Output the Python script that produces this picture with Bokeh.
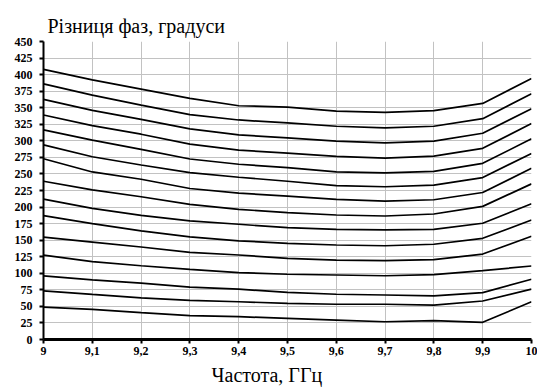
from bokeh.plotting import figure
from bokeh.models import Range1d, FixedTicker, Title
from bokeh.embed import file_html
from bokeh.resources import INLINE

# ---- data ----
freq_ghz = [9.0, 9.1, 9.2, 9.3, 9.4, 9.5, 9.6, 9.7, 9.8, 9.9, 10.0]
x_tick_labels = ["9", "9,1", "9,2", "9,3", "9,4", "9,5", "9,6", "9,7", "9,8", "9,9", "10"]
y_ticks = [0, 25, 50, 75, 100, 125, 150, 175, 200, 225, 250, 275, 300,
           325, 350, 375, 400, 425, 450]

curve_01 = [408, 392, 378, 364, 353, 351, 345, 343, 345.5, 356.5, 394]
curve_02 = [386, 369, 354, 339.5, 331.5, 327, 322, 319.5, 322, 333.5, 371]
curve_03 = [362.5, 346, 332.5, 318, 309, 304.5, 299.5, 297, 299.5, 311.5, 348.5]
curve_04 = [339, 323, 310, 295, 286, 281.5, 276.5, 274, 277, 288.7, 326]
curve_05 = [316.5, 301, 287, 272.6, 264.6, 259.5, 253, 251.5, 254, 266, 303]
curve_06 = [294, 276, 263.5, 252, 245, 239, 232.3, 230.7, 233, 244.5, 281]
curve_07 = [273, 253, 242, 228, 221, 216.5, 211.7, 209, 211, 222, 258.5]
curve_08 = [239, 226, 215.6, 204, 196.6, 191.5, 188, 186.5, 189.5, 201, 235]
curve_09 = [212, 198, 187.5, 179, 174, 168.8, 166.4, 165.4, 166.4, 175.5, 205]
curve_10 = [187, 175, 164, 155, 149, 145.3, 142.7, 141.6, 143.8, 152.8, 180.5]
curve_11 = [154.5, 147, 139.7, 131.7, 127.6, 122.6, 120, 119, 120.5, 129, 156]
curve_12 = [127.5, 117.5, 111.4, 106, 101, 98.5, 97.4, 96.3, 97.9, 104, 111]
curve_13 = [96, 90, 85, 79, 76, 71.3, 68.3, 67.2, 66, 70.7, 91]
curve_14 = [73.5, 68, 63, 59, 57, 54.7, 53.2, 53.2, 52, 58.1, 76]
curve_15 = [49, 45.6, 40.5, 36, 34.4, 32, 29.4, 26.8, 28.4, 26, 57]

curves = [curve_01, curve_02, curve_03, curve_04, curve_05, curve_06, curve_07,
          curve_08, curve_09, curve_10, curve_11, curve_12, curve_13, curve_14,
          curve_15]

y_title = "Різниця фаз, градуси"
x_title = "Частота, ГГц"

# ---- figure ----
p = figure(width=537, height=389, output_backend="svg", toolbar_location=None,
           x_range=Range1d(9.0, 10.0), y_range=Range1d(0, 450),
           min_border_left=43, min_border_right=6,
           min_border_top=41, min_border_bottom=50)
p.outline_line_color = None
p.background_fill_color = "white"
p.border_fill_color = "white"

xt = FixedTicker(ticks=freq_ghz)
yt = FixedTicker(ticks=y_ticks)
p.xaxis.ticker = xt
p.yaxis.ticker = yt
p.xgrid.ticker = xt
p.ygrid.ticker = yt
p.xaxis.major_label_overrides = {f: s for f, s in zip(freq_ghz, x_tick_labels)}

for g in (p.xgrid, p.ygrid):
    g.grid_line_color = "#c2c2c2"
    g.grid_line_width = 1

for ax in (p.xaxis, p.yaxis):
    ax.axis_line_color = "black"
    ax.major_tick_line_color = "black"
    ax.major_tick_line_width = 2
    ax.major_tick_in = 0
    ax.major_tick_out = 4
    ax.minor_tick_line_color = None
    ax.major_label_text_font = "Liberation Serif"
    ax.major_label_text_font_style = "bold"
    ax.major_label_text_font_size = "12px"
    ax.major_label_text_color = "black"

p.xaxis.axis_line_width = 3
p.yaxis.axis_line_width = 2
p.xaxis.major_label_standoff = 3
p.yaxis.major_label_standoff = 7

for c in curves:
    p.line(freq_ghz, c, line_color="black", line_width=1.7)

p.add_layout(Title(text=y_title, align="left", offset=4, standoff=10,
                   text_font="Liberation Serif", text_font_size="20px",
                   text_font_style="normal", text_color="black"), "above")
p.add_layout(Title(text=x_title, align="left", offset=168, standoff=8,
                   text_font="Liberation Serif", text_font_size="20px",
                   text_font_style="normal", text_color="black"), "below")

open("out.html", "w").write(file_html(p, INLINE))
